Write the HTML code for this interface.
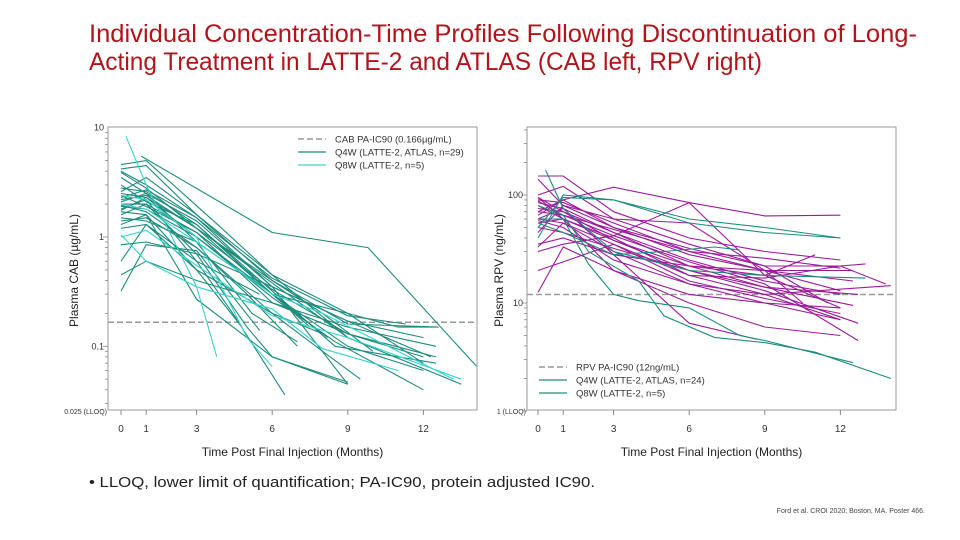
<!DOCTYPE html>
<html><head><meta charset="utf-8">
<style>
html,body{margin:0;padding:0;background:#fff;}
svg{display:block;font-family:"Liberation Sans",Arial,sans-serif;}
</style></head>
<body>
<svg id="root" width="960" height="540" viewBox="0 0 960 540">
  <g fill="#b3141c" font-size="25">
    <text x="89" y="42" textLength="828" lengthAdjust="spacingAndGlyphs">Individual Concentration-Time Profiles Following Discontinuation of Long-</text>
    <text x="89" y="70" textLength="673" lengthAdjust="spacingAndGlyphs">Acting Treatment in LATTE-2 and ATLAS (CAB left, RPV right)</text>
  </g>
  <g id="cab"></g>
  <g id="rpv"></g>
  <text x="89" y="487" font-size="15" fill="#222" textLength="506" lengthAdjust="spacingAndGlyphs">•  LLOQ, lower limit of quantification; PA-IC90, protein adjusted IC90.</text>
  <text x="925" y="513" font-size="7" fill="#444" text-anchor="end">Ford et al. CROI 2020; Boston, MA. Poster 466.</text>
</svg>
<script>
// ---------- CAB data (months, µg/mL) ----------
const cabTicksX = [0,1,3,6,9,12];
const cabTicksY = [10,1,0.1];
const cabThreshold = 0.166;
const cabQ4W = [
 [[0.8,5.5],[6,1.1],[9.8,0.8],[14.1,0.066]],
 [[0,4.6],[1,5.0],[4,1.2],[6,0.45],[9,0.2],[11,0.15],[12.6,0.15]],
 [[0,4.2],[1,4.5],[3,1.6],[6,0.4],[9,0.16],[12.6,0.15]],
 [[0,3.9],[1,2.8],[3,1.2],[6,0.38],[9,0.12],[13.5,0.045]],
 [[0,3.5],[1,2.5],[3,1.4],[6,0.35],[9,0.17],[12.3,0.08]],
 [[0,2.8],[1,2.6],[3,1.3],[6,0.3],[9,0.2],[12,0.07]],
 [[0,2.5],[1,2.3],[3,1.0],[6,0.28],[8.5,0.11],[12,0.04]],
 [[0,2.3],[1,2.7],[3,1.5],[6,0.35],[9,0.045]],
 [[0,2.1],[1,2.5],[3,0.9],[5.2,0.2],[7,0.11]],
 [[0,2.0],[1,2.0],[3,0.7],[5,0.15],[6,0.08],[9,0.045]],
 [[0,1.9],[1,1.8],[3,1.0],[6,0.3],[9,0.1],[12,0.06]],
 [[0,1.8],[1,2.2],[3,0.6],[4.5,0.19],[6.5,0.036]],
 [[0,1.7],[1,1.6],[3,0.5],[4.8,0.15]],
 [[0,1.6],[1,2.0],[3,1.1],[6,0.25],[9,0.13],[12,0.08]],
 [[0,1.5],[1,1.4],[3,0.9],[6,0.3],[7.5,0.15]],
 [[0,1.4],[1,1.5],[3,0.8],[6,0.2],[8,0.09],[9.5,0.05]],
 [[0,1.3],[1,1.6],[3,0.27],[6,0.08],[9,0.047]],
 [[0,1.2],[1,1.3],[3,0.6],[5.5,0.3]],
 [[0,0.85],[1,0.9],[3,0.7],[6,0.35],[9,0.17],[12,0.12]],
 [[0,0.6],[1,1.3],[3,0.5],[6,0.2],[8,0.13]],
 [[0,0.45],[1,0.6],[3,0.4],[6,0.25],[9,0.15],[12.5,0.1]],
 [[0,0.32],[1,0.85],[3,0.75],[5.5,0.14]],
 [[0,2.6],[1,3.5],[3,1.6],[6,0.45],[9,0.12]],
 [[0,3.0],[1,2.1],[3,1.3],[6,0.32],[8.5,0.1],[12.5,0.07]],
 [[0,2.2],[1,2.4],[3,1.2],[6,0.4],[8,0.2],[10,0.09]],
 [[0,1.95],[1,1.7],[3,0.8],[5,0.3],[7,0.1]],
 [[0,2.4],[1,1.9],[3,1.1],[6,0.33],[9,0.13],[12.5,0.08]],
 [[0,1.75],[1,2.3],[3,1.2],[6,0.3],[8.2,0.12]],
 [[0,4.0],[1,3.0],[3,1.5],[6,0.42],[9,0.19],[11.3,0.16]]
];
const cabQ8W = [
 [[0.2,8.3],[1,3.0],[3,0.35],[3.8,0.08]],
 [[0,1.0],[1,1.15],[3,0.55],[6,0.19],[9,0.12],[13.5,0.05]],
 [[0,1.05],[1,0.6],[3,0.35],[6,0.22],[8,0.095],[11,0.06]],
 [[0,2.0],[1,1.8],[3,0.9],[6,0.3],[8,0.2],[13.2,0.05]],
 [[0,2.4],[1,2.2],[3,1.0],[5,0.12],[6,0.065]]
];
// ---------- RPV data (months, ng/mL) ----------
const rpvTicksX = [0,1,3,6,9,12];
const rpvTicksY = [100,10];
const rpvThreshold = 12;
const rpvPurple = [
 [[0,150],[1,150],[3,70],[6,40],[9,30],[12,25]],
 [[0,140],[1,80],[3,50],[6,28],[9,20],[12.5,16]],
 [[0,100],[1,120],[3,60],[6,35],[9,22],[12,22],[13.8,15]],
 [[0,95],[1,70],[3,45],[6,25],[9,16],[12,12]],
 [[0,90],[1,85],[3,55],[6,30],[9,20],[12,13]],
 [[0,85],[1,75],[3,45],[6,22],[9,14],[12.5,9.5]],
 [[0,80],[1,60],[3,40],[6,18],[9,12],[12,7]],
 [[0,75],[1,70],[3,38],[6,20],[9,13],[12.7,6.5]],
 [[0,70],[1,65],[3,42],[6,24],[9,15],[12.7,4.5]],
 [[0,65],[1,90],[3,50],[6,32],[9,22],[11.5,10]],
 [[0,60],[1,55],[3,35],[6,16],[9,11],[12,8]],
 [[0,55],[1,60],[3,20],[6,12],[9,10],[12,9]],
 [[0,50],[1,45],[3,32],[6,20],[9,14],[12.7,12]],
 [[0,45],[1,80],[3,60],[6,55],[9,20],[10.5,10]],
 [[0,35],[1,40],[3,28],[6,22],[9,20],[12.5,20]],
 [[0,33],[1,55],[3,30],[6,15],[9,10],[12,7]],
 [[0,30],[1,35],[3,42],[6,85],[9,18],[12,9]],
 [[0,20],[1,24],[3,35],[6,18],[9,17],[12,22],[13,23]],
 [[0,12.5],[1,33],[3,20],[6,10],[9,6],[12,5]],
 [[0,60],[1,75],[3,28],[6,6.5],[8.7,4.6]],
 [[0,70],[1,90],[3,118],[6,85],[9,64],[12,65]],
 [[0,95],[1,60],[3,38],[6,22],[9,18],[11,28]],
 [[0,88],[1,65],[3,48],[6,30],[9,26],[12,21]],
 [[0,58],[1,50],[3,25],[6,15],[9,12],[14,14.5]]
];
const rpvTeal = [
 [[0.3,170],[1,75],[3,30],[6,20],[9,18],[13,17]],
 [[0,40],[1,100],[3,90],[6,55],[9,45],[12,40]],
 [[0,50],[1,95],[3,90],[6,60],[9,50],[12,40]],
 [[0,60],[1,60],[2,23],[3,12],[4,10.5],[6,9],[8,5],[9,4.5],[12.5,2.8]],
 [[0,80],[1,65],[2,30],[4,16],[5,7.6],[7,4.8],[9,4.3],[11,3.5],[14,2]],
 [[0,55],[1,45],[3,28],[5,30],[7,33],[8,31]]
];

// ---------- drawing ----------
const NS='http://www.w3.org/2000/svg';
function el(tag, attrs, parent){const e=document.createElementNS(NS,tag);for(const k in attrs)e.setAttribute(k,attrs[k]);parent.appendChild(e);return e;}

function drawChart(g, cfg){
  const xS = m => cfg.x0 + m*cfg.xPer;
  const yS = v => cfg.yRef - (Math.log10(v)-cfg.refLog)*cfg.dec;
  const fr = el('rect',{x:cfg.left,y:cfg.top,width:cfg.right-cfg.left,height:cfg.bottom-cfg.top,fill:'none',stroke:'#999','stroke-width':1},g);
  
  
  const lo = Math.floor(Math.log10(cfg.minV)), hi = Math.ceil(Math.log10(cfg.maxV));
  for(let d=lo; d<hi; d++){
    for(let k=1;k<10;k++){
      const v=k*Math.pow(10,d); if(v<cfg.minV||v>cfg.maxV) continue;
      const t=el('line',{x1:cfg.left-(k===1?5:3),x2:cfg.left,y1:yS(v),y2:yS(v),stroke:'#888','stroke-width':0.8},g);
      
      
    }
  }
  cfg.ticksY.forEach(v=>{
    const t=el('text',{x:cfg.left-4,y:yS(v)+3,'font-size':9,'text-anchor':'end',fill:'#333'},g);
    t.textContent=String(v);
    
    
  });
  const ll=el('text',{x:cfg.left-1,y:cfg.bottom+4,'font-size':7,'text-anchor':'end',fill:'#333'},g);
  ll.textContent=cfg.lloq;
  
  
  cfg.ticksX.forEach(m=>{
    const t=el('line',{x1:xS(m),x2:xS(m),y1:cfg.bottom,y2:cfg.bottom+5,stroke:'#888'},g);
    
    
    const l=el('text',{x:xS(m),y:cfg.bottom+22,'font-size':10,'text-anchor':'middle',fill:'#333'},g);
    l.textContent=String(m);
    
    
  });
  const xt=el('text',{x:(cfg.left+cfg.right)/2,y:cfg.bottom+46,'font-size':12,'text-anchor':'middle',fill:'#222'},g);
  xt.textContent='Time Post Final Injection (Months)';
  
  
  const yt=el('text',{x:0,y:0,'font-size':12,'text-anchor':'middle',fill:'#222',transform:`translate(${cfg.yTitleX},${(cfg.top+cfg.bottom)/2+2}) rotate(-90)`},g);
  yt.textContent=cfg.yTitle;
  
  
  const th=el('line',{x1:cfg.left,x2:cfg.right,y1:yS(cfg.thr),y2:yS(cfg.thr),stroke:'#999','stroke-width':1.5,'stroke-dasharray':'6 3'},g);
  
  
  const clipId='clip-'+g.id;
  const cp=el('clipPath',{id:clipId},g);
  el('rect',{x:cfg.left,y:cfg.top,width:cfg.right-cfg.left,height:cfg.bottom-cfg.top},cp);
  const sg=el('g',{'clip-path':`url(#${clipId})`},g);
  
  
  cfg.series.forEach(s=>{
    s.data.forEach(pts=>{
      const p=el('polyline',{points:pts.map(q=>xS(q[0]).toFixed(1)+','+yS(q[1]).toFixed(1)).join(' '),fill:'none',stroke:s.color,'stroke-width':1.1},sg);
      
      
    });
  });
  const lg=el('g',{},g);
  
  
  cfg.legend.forEach((it,i)=>{
    const y=cfg.legY+i*13;
    const ln=el('line',{x1:cfg.legX,x2:cfg.legX+28,y1:y,y2:y,stroke:it.c,'stroke-width':it.dash?1.5:1.2,'stroke-dasharray':it.dash?'6 3':'none'},lg);
    
    
    const tx=el('text',{x:cfg.legX+37,y:y+3.5,'font-size':9.5,fill:'#333'},lg);
    tx.textContent=it.t;
    
    
  });
}

drawChart(document.getElementById('cab'),{
  left:108,right:477,top:127,bottom:410,x0:121,xPer:25.2,yRef:237,refLog:0,dec:109.3,
  minV:0.025,maxV:10,ticksY:cabTicksY,ticksX:cabTicksX,thr:cabThreshold,lloq:'0.025 (LLOQ)',
  yTitle:'Plasma CAB (µg/mL)',yTitleX:78,
  series:[{name:'cab-q4w-line',color:'#1e8c7c',data:cabQ4W},{name:'cab-q8w-line',color:'#35d3cf',data:cabQ8W}],
  legX:298,legY:139,
  legend:[{t:'CAB PA-IC90 (0.166µg/mL)',c:'#999',dash:true},{t:'Q4W (LATTE-2, ATLAS, n=29)',c:'#1e8c7c'},{t:'Q8W (LATTE-2, n=5)',c:'#35d3cf'}]
});
drawChart(document.getElementById('rpv'),{
  left:527,right:896,top:127,bottom:410,x0:538,xPer:25.2,yRef:195,refLog:2,dec:108,
  minV:1,maxV:420,ticksY:rpvTicksY,ticksX:rpvTicksX,thr:rpvThreshold,lloq:'1 (LLOQ)',
  yTitle:'Plasma RPV (ng/mL)',yTitleX:503,
  series:[{name:'rpv-q4w-line',color:'#9b1c9b',data:rpvPurple},{name:'rpv-q8w-line',color:'#1e8c80',data:rpvTeal}],
  legX:539,legY:367,
  legend:[{t:'RPV PA-IC90 (12ng/mL)',c:'#999',dash:true},{t:'Q4W (LATTE-2, ATLAS, n=24)',c:'#1e8c80'},{t:'Q8W  (LATTE-2, n=5)',c:'#1e8c80'}]
});
</script>
</body></html>
